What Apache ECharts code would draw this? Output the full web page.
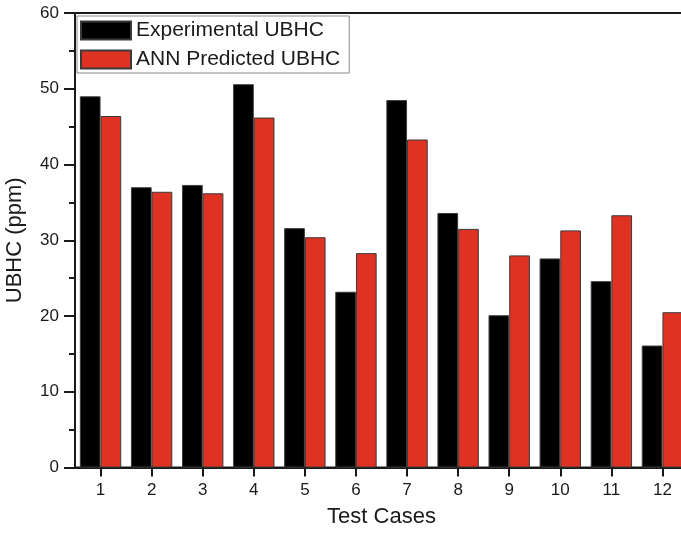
<!DOCTYPE html>
<html>
<head>
<meta charset="utf-8">
<script src="https://cdn.jsdelivr.net/npm/echarts@6/dist/echarts.min.js"></script>
<style>
  html, body { margin: 0; padding: 0; background: #ffffff; overflow: hidden; }
  /* the plot runs past the right edge of the window, so the frame's right side is clipped */
  #chart { width: 692px; height: 535px; }
</style>
</head>
<body>
<div id="chart"></div>
<script>
// Test case numbers along the x axis
const testCases = ['1', '2', '3', '4', '5', '6', '7', '8', '9', '10', '11', '12'];
// Measured unburned hydrocarbons (ppm)
const experimentalUBHC = [49.0, 37.0, 37.3, 50.6, 31.6, 23.2, 48.5, 33.6, 20.1, 27.6, 24.6, 16.1];
// Neural-network predictions (ppm)
const predictedUBHC = [46.4, 36.4, 36.2, 46.2, 30.4, 28.3, 43.3, 31.5, 28.0, 31.3, 33.3, 20.5];
// Y axis range and step
const yMin = 0, yMax = 60, yStep = 10;

const font = '"Liberation Sans", Arial, sans-serif';
const ink = '#1a1a1a';

const chart = echarts.init(document.getElementById('chart'), null, { renderer: 'canvas' });

chart.setOption({
  animation: false,
  backgroundColor: '#ffffff',
  textStyle: { fontFamily: font },
  grid: {
    left: 75, top: 13, right: 4, bottom: 67.5,
    outerBoundsMode: 'none',
    containLabel: false,
    show: true, borderColor: ink, borderWidth: 2, backgroundColor: 'transparent'
  },
  legend: {
    orient: 'vertical',
    left: 77, top: 16,
    padding: [4, 9, 3, 3],
    itemWidth: 50, itemHeight: 18, itemGap: 8,
    icon: 'rect',
    borderColor: '#8a8a8a', borderWidth: 1,
    backgroundColor: '#ffffff',
    textStyle: { fontFamily: font, fontSize: 21, color: ink, lineHeight: 19 },
    data: ['Experimental UBHC', 'ANN Predicted UBHC']
  },
  xAxis: {
    type: 'category',
    data: testCases,
    name: 'Test Cases',
    nameLocation: 'middle',
    nameGap: 38,
    nameTextStyle: { fontFamily: font, fontSize: 22, color: ink },
    axisLine: { show: true, lineStyle: { color: ink, width: 2 } },
    axisTick: { show: true, alignWithLabel: true, length: 9, lineStyle: { color: ink, width: 2 } },
    axisLabel: { fontFamily: font, fontSize: 17, color: ink, margin: 14 },
    splitLine: { show: false }
  },
  yAxis: {
    type: 'value',
    min: yMin, max: yMax, interval: yStep,
    name: 'UBHC (ppm)',
    nameLocation: 'middle',
    nameGap: 49,
    nameTextStyle: { fontFamily: font, fontSize: 22, color: ink },
    axisLine: { show: true, lineStyle: { color: ink, width: 2 } },
    axisTick: { show: true, length: 11, lineStyle: { color: ink, width: 2 } },
    minorTick: { show: true, splitNumber: 2, length: 6, lineStyle: { color: ink, width: 2 } },
    axisLabel: { fontFamily: font, fontSize: 17, color: ink, margin: 16 },
    splitLine: { show: false }
  },
  series: [
    {
      name: 'Experimental UBHC',
      type: 'bar',
      data: experimentalUBHC,
      barGap: '0%',
      barCategoryGap: '19%',
      itemStyle: { color: '#000000', borderColor: '#3a3a3a', borderWidth: 1 }
    },
    {
      name: 'ANN Predicted UBHC',
      type: 'bar',
      data: predictedUBHC,
      barGap: '0%',
      barCategoryGap: '19%',
      itemStyle: { color: '#e03223', borderColor: '#3a3a3a', borderWidth: 1 }
    }
  ]
});
</script>
</body>
</html>
